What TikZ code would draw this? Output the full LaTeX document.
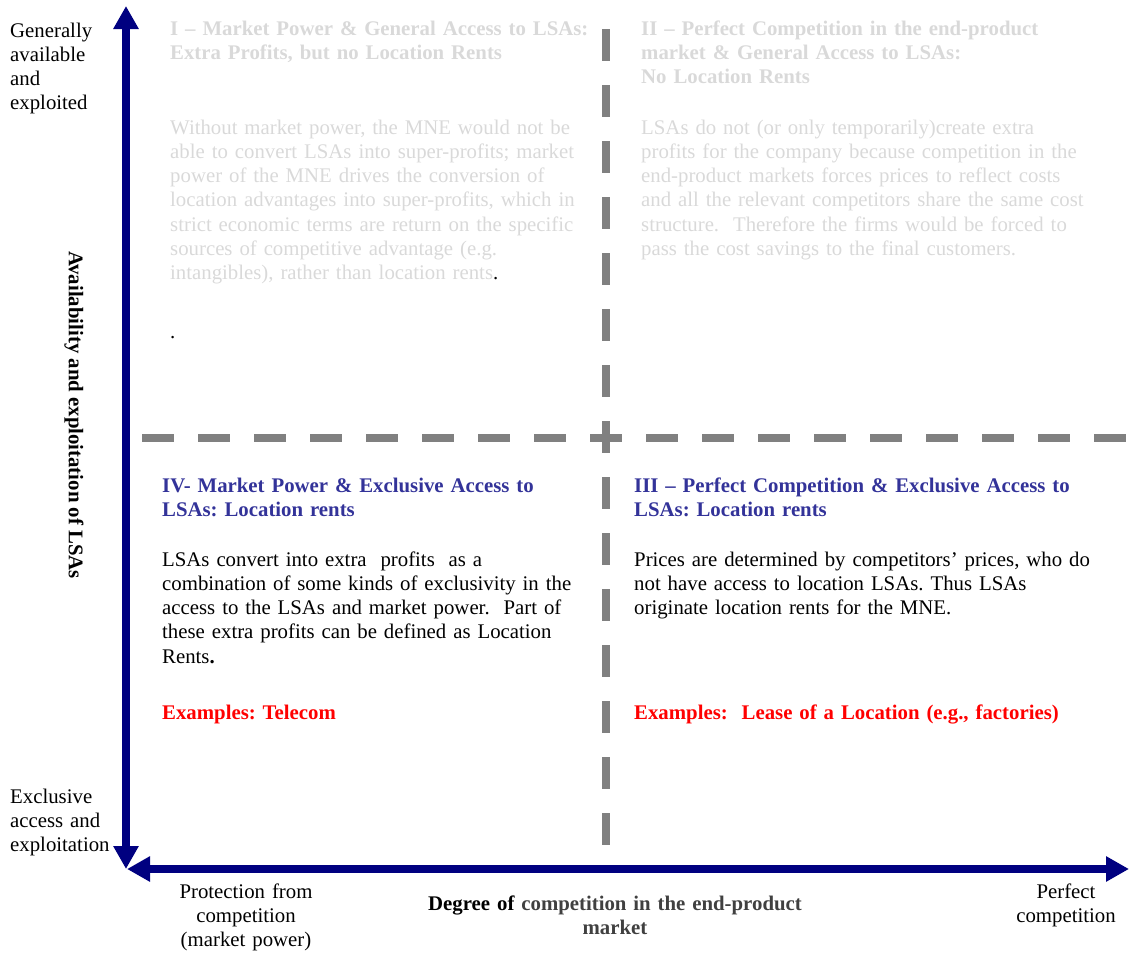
\documentclass[tikz,border=0pt]{standalone}
\usepackage{fontspec}
\setmainfont{Liberation Serif}
\usetikzlibrary{arrows.meta}
\definecolor{navyax}{HTML}{000080}
\definecolor{dashgray}{HTML}{808080}
\definecolor{faint}{HTML}{D9D9D9}
\definecolor{headblue}{HTML}{333399}
\definecolor{exred}{HTML}{FF0000}
\definecolor{darktxt}{HTML}{404040}
\newcommand{\qfont}{\fontsize{20.8}{24.3}\selectfont\frenchspacing}
\begin{document}
\frenchspacing
\begin{tikzpicture}[x=1pt,y=-1pt,
  txt/.style={anchor=base west, inner sep=0pt, align=left, text width=560pt,
    font=\qfont},
  ctxt/.style={anchor=base, inner sep=0pt, align=center, text width=420pt,
    font=\qfont},
  axis/.style={navyax, line width=8pt, {Triangle[length=23pt,width=24pt]}-{Triangle[length=23pt,width=24pt]}},
  divider/.style={dashgray, line width=7.5pt, dash pattern=on 32pt off 24pt},
  faded/.style={txt, text=faint},
  quadhead/.style={txt, text=headblue, font=\qfont\bfseries},
  examples/.style={txt, text=exred, font=\qfont\bfseries}]
\useasboundingbox (0,0) rectangle (1129,953);

% dividers
\coordinate (vdtop) at (606,29);
\coordinate (vdbot) at (606,845);
\coordinate (hdleft) at (142,438);
\coordinate (hdright) at (1129,438);
\draw[divider] (vdtop) -- (vdbot);
\draw[divider] (hdleft) -- (hdright);

% axes
\coordinate (vtop) at (126,6);
\coordinate (vbot) at (126,869);
\coordinate (hleft) at (127,869);
\coordinate (hright) at (1129,869);
\draw[axis] (vbot) -- (vtop);
\draw[axis] (hleft) -- (hright);

% quadrant I
\node[faded, font=\qfont\bfseries] (q1head) at (170,35)
  {I -- Market Power \& General Access to LSAs:\\Extra Profits, but no Location Rents};
\node[faded] (q1body) at (170,134)
  {Without market power, the MNE would not be\\
   able to convert LSAs into super-profits; market\\
   power of the MNE drives the conversion of\\
   location advantages into super-profits, which in\\
   strict economic terms are return on the specific\\
   sources of competitive advantage (e.g.\\
   intangibles), rather than location rents\textcolor{black}{.}};
\node[txt] (q1dot) at (170,338) {.};

% quadrant II
\node[faded, font=\qfont\bfseries] (q2head) at (641,35)
  {II -- Perfect Competition in the end-product\\market \& General Access to LSAs:\\No Location Rents};
\node[faded] (q2body) at (641,134)
  {LSAs do not (or only temporarily)create extra\\
   profits for the company because competition in the\\
   end-product markets forces prices to reflect costs\\
   and all the relevant competitors share the same cost\\
   structure.\ \ Therefore the firms would be forced to\\
   pass the cost savings to the final customers.};

% quadrant IV
\node[quadhead] (q4head) at (162,492)
  {IV- Market Power \& Exclusive Access to\\LSAs: Location rents};
\node[txt] (q4body) at (162,566)
  {LSAs convert into extra\ \ profits\ \ as a\\
   combination of some kinds of exclusivity in the\\
   access to the LSAs and market power.\ \ Part of\\
   these extra profits can be defined as Location\\
   Rents\textbf{.}};
\node[examples] (q4ex) at (162,719) {Examples: Telecom};

% quadrant III
\node[quadhead] (q3head) at (634,492)
  {III -- Perfect Competition \& Exclusive Access to\\LSAs: Location rents};
\node[txt] (q3body) at (634,566)
  {Prices are determined by competitors’ prices, who do\\
   not have access to location LSAs. Thus LSAs\\
   originate location rents for the MNE.};
\node[examples] (q3ex) at (634,719) {Examples:\ \ Lease of a Location (e.g., factories)};

% axis labels
\node[txt] (ytop) at (10,37)
  {Generally\\available\\and\\exploited};
\node[txt] (ybot) at (10,803)
  {Exclusive\\access and\\exploitation};
\node[inner sep=0pt, rotate=-90, font=\qfont\bfseries] (ylab) at (74,415)
  {Availability and exploitation of LSAs};
\node[ctxt, text width=200pt] (xleft) at (246,898)
  {Protection from\\competition\\(market power)};
\node[ctxt] (xlab) at (615,910)
  {\textbf{Degree of \textcolor{darktxt}{competition in the end-product}}\\\textbf{\textcolor{darktxt}{market}}};
\node[ctxt, text width=160pt] (xright) at (1066,898)
  {Perfect\\competition};
\end{tikzpicture}
\end{document}
